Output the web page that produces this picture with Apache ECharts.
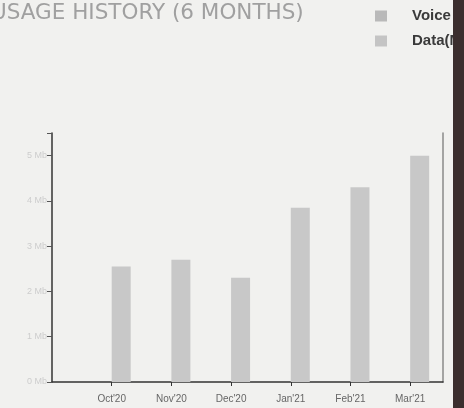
<!DOCTYPE html>
<html>
<head>
<meta charset="utf-8">
<script src="https://cdn.jsdelivr.net/npm/echarts@6/dist/echarts.min.js"></script>
<style>html,body{margin:0;padding:0;background:#f1f1ef;}#c{width:464px;height:408px;}</style>
</head>
<body>
<div id="c"></div>
<script>
const months = ["Oct'20", "Nov'20", "Dec'20", "Jan'21", "Feb'21", "Mar'21"];
const voiceValues = [0, 0, 0, 0, 0, 0];
const dataValues = [2.55, 2.7, 2.3, 3.85, 4.3, 5.0];
const yTicks = ["0 Mb", "1 Mb", "2 Mb", "3 Mb", "4 Mb", "5 Mb"];

const pos = months.map((m, i) => i + 1);
const chart = echarts.init(document.getElementById('c'));
chart.setOption({
  backgroundColor: '#f1f1ef',
  animation: false,
  title: {
    text: 'USAGE HISTORY (6 MONTHS)',
    left: -9, top: 2, padding: 0,
    textStyle: {fontFamily: 'DejaVu Sans', fontSize: 21.5, fontWeight: 'normal', color: '#a0a0a0'}
  },
  legend: {
    orient: 'vertical', left: 375, top: 8, padding: 0,
    icon: 'rect',
    itemWidth: 12, itemHeight: 11, itemGap: 9,
    textStyle: {fontFamily: 'Liberation Sans', fontSize: 15, fontWeight: 'bold', color: '#3a3a3a', lineHeight: 16, padding: [0, 0, 0, 20]},
    data: [{name: 'Voice', itemStyle: {color: '#b9b9b9'}}, {name: 'Data(MB)', itemStyle: {color: '#c4c4c4'}}]
  },
  grid: {left: 52, top: 133, right: 21, bottom: 26},
  xAxis: {
    type: 'value', min: 0, max: 6.55, interval: 1,
    axisLine: {show: true, lineStyle: {color: '#333', width: 1.5}},
    axisTick: {show: true, length: 4, customValues: pos, lineStyle: {color: '#333'}},
    axisLabel: {customValues: pos, margin: 12, fontFamily: 'Liberation Sans', fontSize: 10, color: '#666',
      formatter: v => months[Math.round(v) - 1] || ''},
    splitLine: {show: false}
  },
  yAxis: [{
    type: 'value', min: 0, max: 5.5, interval: 1,
    axisLine: {show: true, lineStyle: {color: '#333', width: 1.5}},
    axisTick: {show: true, length: 5, lineStyle: {color: '#555'}},
    axisLabel: {margin: 5, fontFamily: 'Liberation Sans', fontSize: 9, color: '#cdcdcd',
      formatter: v => yTicks[v] || ''},
    splitLine: {show: false}
  }, {
    type: 'value', min: 0, max: 5.5, position: 'right',
    axisLine: {show: true, lineStyle: {color: '#8a8a8a', width: 1.5}},
    axisTick: {show: false}, axisLabel: {show: false}, splitLine: {show: false}
  }],
  series: [
    {name: 'Voice', type: 'bar', barWidth: 19, barGap: '0%', itemStyle: {color: '#b9b9b9'},
      data: voiceValues.map((v, i) => [pos[i], v])},
    {name: 'Data(MB)', type: 'bar', barWidth: 19, barGap: '0%', itemStyle: {color: '#c8c8c8'},
      data: dataValues.map((v, i) => [pos[i], v])}
  ],
  graphic: [{type: 'rect', z: 100, shape: {x: 453, y: 0, width: 11, height: 408}, style: {fill: '#3b2e2e'}}]
});
</script>
</body>
</html>
